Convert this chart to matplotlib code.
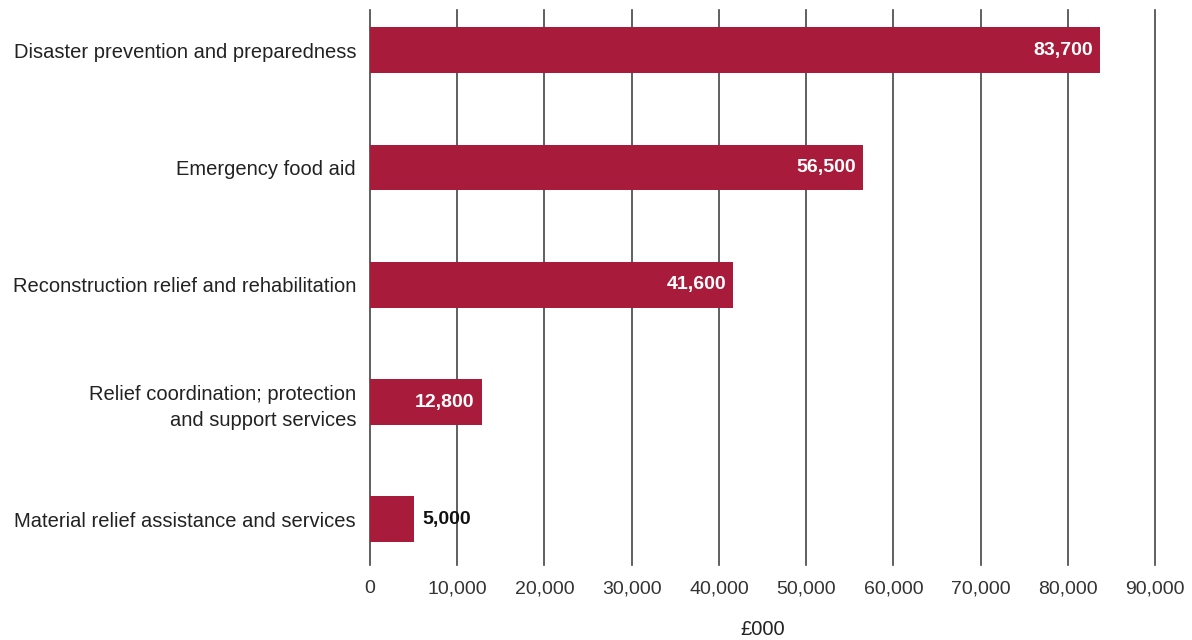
import matplotlib
matplotlib.use('Agg')
from matplotlib import pyplot as plt

plt.rcParams['font.family'] = ['Liberation Sans', 'DejaVu Sans']

# categories, top to bottom
categories = [
    'Disaster prevention and preparedness',
    'Emergency food aid',
    'Reconstruction relief and rehabilitation',
    'Relief coordination; protection\nand support services',
    'Material relief assistance and services',
]
values = [83700, 56500, 41600, 12800, 5000]
x_ticks = list(range(0, 90001, 10000))

bar_color = '#A81B3A'

fig = plt.figure(figsize=(11.92, 6.4), dpi=100)
ax = fig.add_axes([0.3104, 0.117, 0.6586, 0.867])

y = list(range(len(categories)))
ax.barh(y, values, height=0.39, color=bar_color, zorder=3)

# value labels: inside the bar when there is room
for yi, v in zip(y, values):
    text = '{:,}'.format(v)
    if v > 10000:
        ax.text(v - 800, yi, text, ha='right', va='center', color='white',
                fontsize=14, fontweight='bold', zorder=4)
    else:
        ax.text(v + 1000, yi, text, ha='left', va='center', color='#111111',
                fontsize=14, fontweight='bold', zorder=4)

ax.set_xlim(0, 90000)
ax.set_ylim(4.39, -0.34)
ax.set_xticks(x_ticks)
ax.set_xticklabels(['{:,}'.format(t) for t in x_ticks])
ax.set_yticks(y)
ax.set_yticklabels(categories, ha='right', fontsize=14.5, color='#222222',
                   linespacing=1.45)

# vertical grid only, edge lines not clipped
ax.grid(axis='x', color='#444444', linewidth=1.2, zorder=0)
for gl in ax.get_xgridlines():
    gl.set_clip_on(False)
for s in ax.spines.values():
    s.set_visible(False)
ax.tick_params(axis='both', length=0)
ax.tick_params(axis='x', labelsize=14, labelcolor='#333333', pad=11)
ax.tick_params(axis='y', pad=10)

ax.set_xlabel('£000', fontsize=14.5, color='#222222', labelpad=16)

plt.savefig('out.png', dpi=100)
